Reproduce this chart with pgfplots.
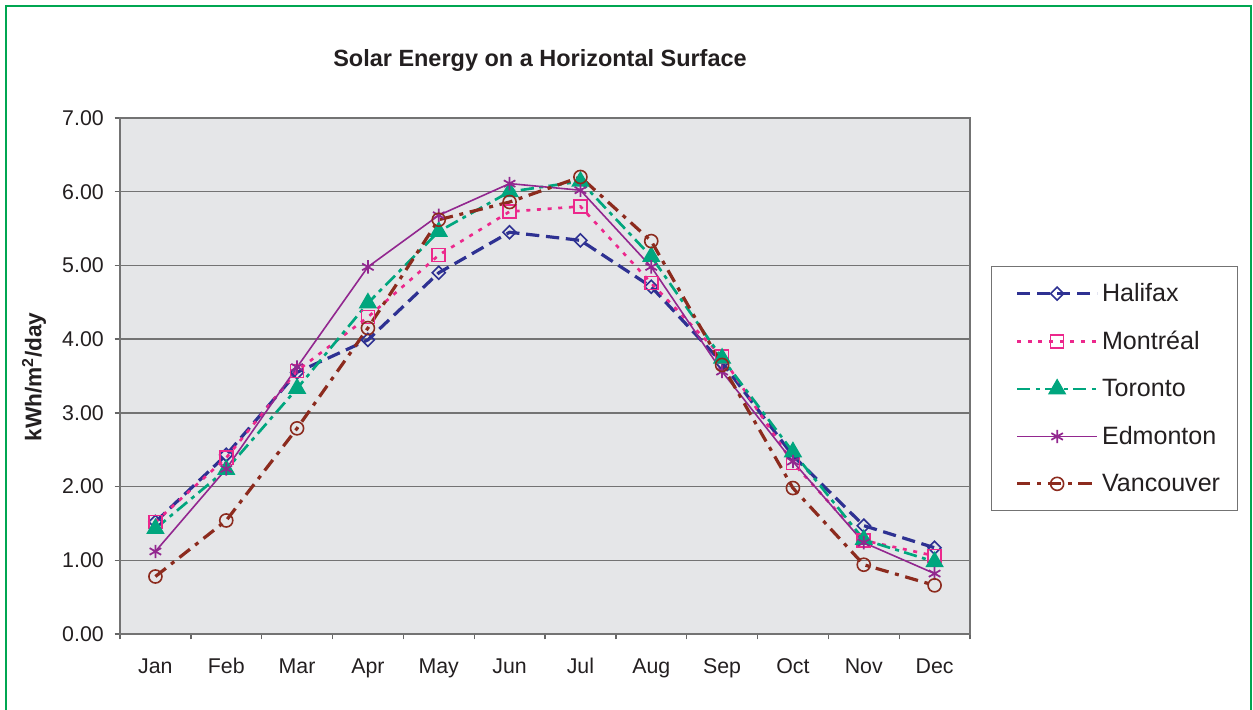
\documentclass[border=0pt]{standalone}
\usepackage{fontspec}
\setmainfont{Liberation Sans}
\usepackage{pgfplots}
\pgfplotsset{compat=1.18}

\definecolor{halifax}{RGB}{46,49,146}
\definecolor{montreal}{RGB}{236,40,140}
\definecolor{toronto}{RGB}{0,166,126}
\definecolor{edmonton}{RGB}{146,39,143}
\definecolor{vancouver}{RGB}{140,43,30}
\definecolor{plotbg}{RGB}{229,230,232}
\definecolor{frame}{RGB}{0,166,81}
\definecolor{txt}{RGB}{35,31,32}

\begin{document}
\begin{tikzpicture}
\useasboundingbox (0pt,0pt) rectangle (939.75pt,532.5pt);
\draw[frame,line width=1.5pt] (4.5pt,-5pt) -- (4.5pt,528pt) -- (938.25pt,528pt) -- (938.25pt,-5pt);
\node[txt,font=\fontsize{17.6}{21}\selectfont\bfseries] at (405pt,487.5pt) {Solar Energy on a Horizontal Surface};
\node[txt,rotate=90,font=\fontsize{17}{20}\selectfont\bfseries] at (25.5pt,249.75pt) {kWh/m\textsuperscript{2}/day};
\begin{axis}[
  at={(90pt,57pt)}, anchor=south west,
  scale only axis, width=637.5pt, height=387pt,
  xmin=0.5, xmax=12.5, ymin=0, ymax=7,
  axis background/.style={fill=plotbg},
  axis line style={black!55,line width=1.2pt},
  xtick={1,...,12},
  xticklabels={Jan,Feb,Mar,Apr,May,Jun,Jul,Aug,Sep,Oct,Nov,Dec},
  minor xtick={0.5,1.5,...,12.5},
  major x tick style={draw=none},
  minor x tick style={black!60,line width=1pt},
  ytick={0,1,...,7},
  ytick style={black!60,line width=1pt},
  tick align=outside, tick pos=left,
  major tick length=4pt, minor tick length=4pt,
  ymajorgrids, major grid style={black!55,line width=1.1pt},
  ticklabel style={txt,font=\fontsize{16}{19}\selectfont,inner sep=0pt},
  yticklabel style={xshift=-8pt},
  xticklabel style={anchor=base,yshift=-26pt},
  yticklabel style={/pgf/number format/.cd,fixed,fixed zerofill,precision=2,assume math mode=true},
  legend style={at={(1.02471,0.4758)}, anchor=west, draw=black!55, line width=0.8pt,
    fill=white, inner xsep=11pt, inner ysep=11pt, row sep=16.75pt, column sep=0.5pt,
    font=\fontsize{18.8}{22}\selectfont, text=txt},
  legend cell align=left,
  legend image code/.code={\path (0pt,0pt) (67pt,0pt);
    \draw[mark repeat=2,mark phase=2] plot coordinates {(7pt,0pt) (37pt,0pt) (67pt,0pt)};},
]
\addplot[halifax, line width=2.4pt, dash pattern=on 10pt off 5pt,
  mark=square, mark size=3.45pt, mark options={solid,rotate=45,line width=1.2pt}]
  coordinates {(1,1.52) (2,2.43) (3,3.55) (4,3.99) (5,4.90) (6,5.45) (7,5.34) (8,4.71) (9,3.68) (10,2.42) (11,1.47) (12,1.17)};
\addlegendentry{Halifax}
\addplot[montreal, line width=2pt, dash pattern=on 3pt off 5pt,
  mark=square, mark size=4.9pt, mark options={solid,line width=1.2pt}]
  coordinates {(1,1.52) (2,2.39) (3,3.57) (4,4.30) (5,5.14) (6,5.73) (7,5.80) (8,4.76) (9,3.76) (10,2.32) (11,1.27) (12,1.06)};
\addlegendentry{Montréal}
\addplot[toronto, line width=2pt, dash pattern=on 10pt off 4pt on 3pt off 4pt,
  mark=triangle*, mark size=6pt, mark options={solid}]
  coordinates {(1,1.43) (2,2.23) (3,3.33) (4,4.49) (5,5.46) (6,6.00) (7,6.14) (8,5.12) (9,3.74) (10,2.47) (11,1.28) (12,0.98)};
\addlegendentry{Toronto}
\addplot[edmonton, line width=1.2pt, solid,
  mark=asterisk, mark size=5pt, mark options={solid,line width=1.3pt}]
  coordinates {(1,1.12) (2,2.24) (3,3.62) (4,4.98) (5,5.68) (6,6.11) (7,6.02) (8,4.98) (9,3.56) (10,2.34) (11,1.24) (12,0.82)};
\addlegendentry{Edmonton}
\addplot[vancouver, line width=2.4pt, dash pattern=on 10pt off 5pt on 3pt off 5pt,
  mark=o, mark size=4.9pt, mark options={solid,line width=1.2pt}]
  coordinates {(1,0.78) (2,1.54) (3,2.79) (4,4.15) (5,5.62) (6,5.86) (7,6.20) (8,5.33) (9,3.65) (10,1.98) (11,0.94) (12,0.66)};
\addlegendentry{Vancouver}
\end{axis}
\end{tikzpicture}
\end{document}
